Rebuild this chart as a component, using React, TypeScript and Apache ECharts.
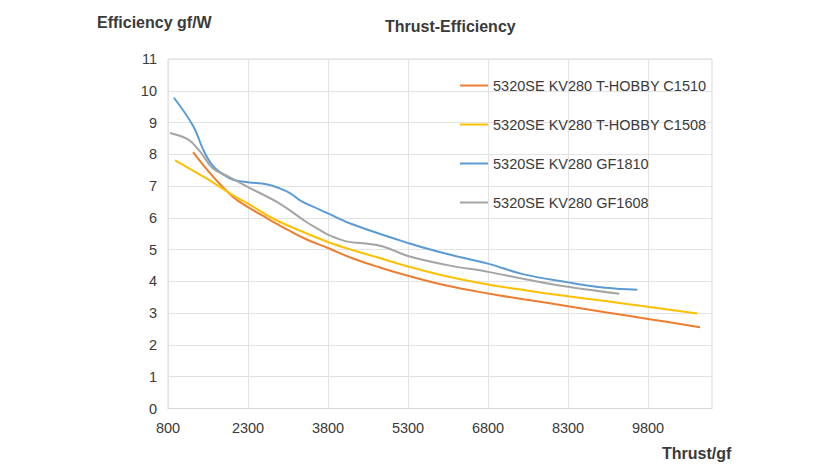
import React, { useEffect, useRef } from "react";
import * as echarts from "echarts";

const xTicks = [800, 2300, 3800, 5300, 6800, 8300, 9800];
const seriesNames = [
  "5320SE KV280 T-HOBBY C1510",
  "5320SE KV280 T-HOBBY C1508",
  "5320SE KV280 GF1810",
  "5320SE KV280 GF1608",
];
const c1510: [number, number][] = [
  [1270, 8.07], [1644, 7.3], [2020, 6.66], [2300, 6.34], [2645, 6.0], [3050, 5.62],
  [3400, 5.32], [3800, 5.05], [4270, 4.72], [4770, 4.44], [5300, 4.18], [6020, 3.87],
  [6800, 3.62], [7500, 3.43], [8300, 3.22], [9000, 3.03], [9800, 2.82], [10775, 2.56],
];
const c1508: [number, number][] = [
  [931, 7.81], [1520, 7.24], [2020, 6.71], [2300, 6.45], [2770, 5.98], [3270, 5.6],
  [3800, 5.24], [4270, 4.98], [4800, 4.72], [5300, 4.47], [6020, 4.16], [6800, 3.9],
  [7500, 3.72], [8300, 3.53], [9000, 3.38], [9800, 3.2], [10725, 2.99],
];
const gf1810: [number, number][] = [
  [912, 9.78], [1275, 8.88], [1462, 8.14], [1644, 7.63], [1850, 7.35], [2019, 7.2],
  [2300, 7.12], [2645, 7.06], [2894, 6.93], [3087, 6.78], [3300, 6.53], [3644, 6.26],
  [3800, 6.14], [4269, 5.79], [5300, 5.21], [6020, 4.87], [6800, 4.56], [7450, 4.23],
  [8300, 3.97], [9000, 3.8], [9600, 3.74],
];
const gf1608: [number, number][] = [
  [837, 8.67], [1181, 8.46], [1400, 8.09], [1644, 7.55], [1900, 7.33], [2300, 6.97],
  [2894, 6.45], [3394, 5.87], [3644, 5.62], [3800, 5.47], [4144, 5.26], [4456, 5.2],
  [4831, 5.1], [5300, 4.8], [6020, 4.52], [6800, 4.3], [7500, 4.07], [8300, 3.83],
  [9262, 3.61],
];
const seriesData = [c1510, c1508, gf1810, gf1608];
const colors = ["#ED7D31", "#FFC000", "#5B9BD5", "#A5A5A5"];

const FONT = "Liberation Sans, Arial, sans-serif";

export default function App() {
  const ref = useRef<HTMLDivElement>(null);
  useEffect(() => {
    if (!ref.current) return;
    const chart = echarts.init(ref.current, undefined, { renderer: "svg" });
    const titleStyle = {
      fontSize: 16,
      fontWeight: "bold",
      color: "#3a3a3a",
      lineHeight: 16,
      fontFamily: FONT,
    };
    chart.setOption({
      animation: false,
      backgroundColor: "#ffffff",
      textStyle: { fontFamily: FONT },
      title: [
        { text: "Thrust-Efficiency", left: 385, top: 18.5, padding: 0, textStyle: titleStyle },
        { text: "Efficiency gf/W", left: 97, top: 14.5, padding: 0, textStyle: titleStyle },
        { text: "Thrust/gf", left: 662, top: 445, padding: 0, textStyle: titleStyle },
      ],
      legend: {
        orient: "vertical",
        left: 459,
        top: 78,
        padding: 0,
        itemWidth: 28,
        itemHeight: 14,
        itemGap: 24,
        data: seriesNames,
        itemStyle: { opacity: 0 },
        textStyle: { fontSize: 14.5, color: "#3a3a3a", fontFamily: FONT },
      },
      grid: {
        left: 168,
        right: 128,
        top: 59,
        bottom: 64.5,
        show: true,
        borderColor: "#d9d9d9",
        borderWidth: 1,
      },
      xAxis: {
        type: "value",
        min: 800,
        max: 11000,
        axisLine: { show: true, lineStyle: { color: "#d9d9d9" } },
        axisTick: { show: false, customValues: xTicks },
        axisLabel: {
          customValues: xTicks,
          formatter: (v: number) => String(v),
          fontSize: 14.5,
          color: "#3a3a3a",
          margin: 12,
          fontFamily: FONT,
        },
        splitLine: { show: true, lineStyle: { color: "#e3e3e3" } },
      },
      yAxis: {
        type: "value",
        min: 0,
        max: 11,
        interval: 1,
        axisLine: { show: false },
        axisTick: { show: false },
        axisLabel: { fontSize: 14.5, color: "#3a3a3a", margin: 11, fontFamily: FONT },
        splitLine: { show: true, lineStyle: { color: "#e3e3e3" } },
      },
      series: seriesNames.map((name, i) => ({
        name,
        type: "line",
        data: seriesData[i],
        smooth: 0.4,
        symbol: "none",
        showSymbol: false,
        lineStyle: { width: 2, color: colors[i] },
        itemStyle: { color: colors[i] },
      })),
    });
    return () => chart.dispose();
  }, []);
  return (
    <div
      ref={ref}
      style={{ position: "fixed", left: 0, top: 0, width: 840, height: 473 }}
    />
  );
}
